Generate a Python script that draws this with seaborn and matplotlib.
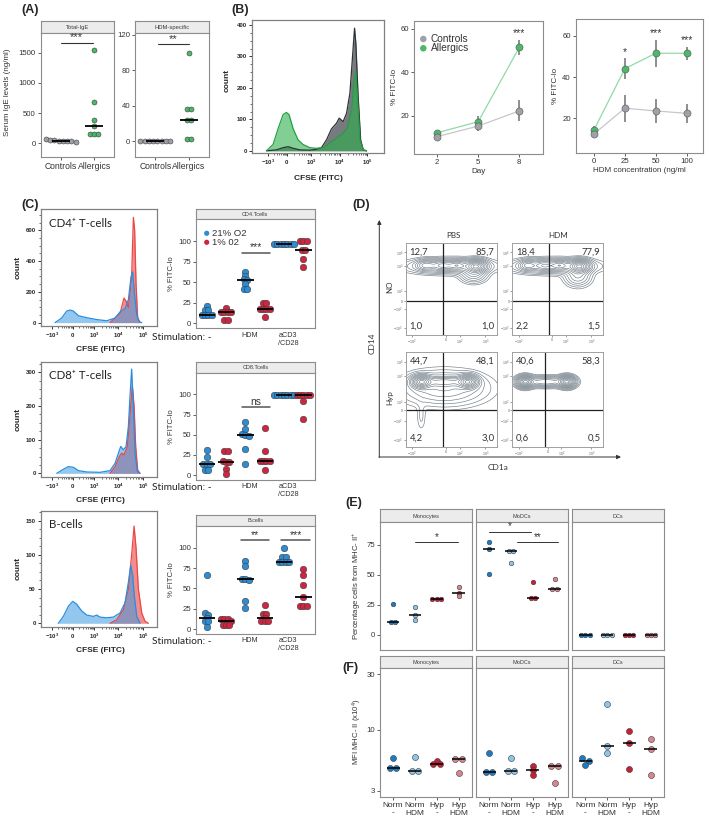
import numpy as np
import matplotlib
matplotlib.use("Agg")
import matplotlib.pyplot as plt
from matplotlib.ticker import AutoMinorLocator
import seaborn as sns

# ---------------- data ----------------
# (A) serum IgE
ige_groups = ["Controls", "Allergics"]
total_ige_controls = [22, 28, 35, 40, 48, 58, 62, 30]
total_ige_allergics = [1550, 690, 390, 290, 150, 150, 150]
hdm_ige_controls = [0, 0, 0, 0, 0, 0, 0, 0]
hdm_ige_allergics = [100, 36, 36, 24, 24, 2, 2]

# (B) CFSE histogram (display channel 0-100, count)
b_hist_ticks = [12.1, 26.5, 44.9, 66.4, 87.1]
b_ctrl_ch = [10.9, 18.4, 23.5, 27.3, 31.1, 36.1, 43.7, 48.7, 52.5, 56.3, 60.1, 63.9,
             65.9, 68.9, 71.5, 74.0, 76.0, 77.5, 78.5, 80.1, 82.1, 84.1, 86.6]
b_ctrl_count = [0, 3, 10, 13, 8, 3, 2, 5, 10, 35, 70, 88, 104, 93, 120, 183, 300, 390,
                342, 183, 35, 3, 0]
b_allg_ch = [10.9, 15.9, 19.7, 23.5, 26.0, 28.0, 31.1, 34.8, 38.6, 43.7, 48.7, 53.8,
             58.8, 63.9, 66.9, 68.9, 72.0, 75.3, 77.0, 78.3, 79.6, 81.6, 84.1, 86.6]
b_allg_count = [0, 20, 70, 115, 122, 115, 70, 35, 20, 10, 8, 10, 25, 40, 50, 56, 72,
                130, 215, 252, 183, 35, 3, 0]

# (B) % FITC-lo over days and HDM concentration
days = [2, 5, 8]
ctrl_day_mean = [10.3, 15.2, 22.2]
ctrl_day_err = [1.5, 2.5, 4.8]
allg_day_mean = [12.1, 17.2, 51.5]
allg_day_err = [1.5, 2.5, 3.5]
day_sig = ["", "", "***"]
hdm_conc = ["0", "25", "50", "100"]
ctrl_conc_mean = [12.4, 24.9, 23.6, 22.4]
ctrl_conc_err = [2.0, 6.5, 5.7, 4.5]
allg_conc_mean = [14.3, 44.1, 51.6, 51.6]
allg_conc_err = [2.0, 5.0, 6.6, 3.2]
conc_sig = ["", "*", "***", "***"]

# (C) CFSE histograms, 21% O2 (blue) vs 1% O2 (red)
c_hist_ticks = [9.5, 27.6, 46.3, 67.0, 88.5]
cd4_blue_ch = [12.4, 18.1, 22.4, 25.3, 28.2, 32.5, 39.7, 48.3, 56.9, 64.1, 68.4, 72.7,
               75.6, 77.9, 79.3, 80.7, 82.8, 85.1, 87.1]
cd4_blue_count = [0, 30, 75, 82, 75, 45, 32, 20, 12, 30, 70, 90, 150, 300, 330, 200, 50, 5, 0]
cd4_red_ch = [59.8, 64.1, 68.4, 71.8, 73.6, 75.6, 78.4, 79.9, 81.0, 82.2, 83.6, 85.6]
cd4_red_count = [0, 30, 60, 160, 140, 100, 300, 685, 600, 250, 30, 0]
cd8_blue_ch = [13.8, 19.5, 23.9, 28.2, 32.5, 39.7, 51.1, 59.8, 64.1, 67.0, 69.0, 71.3,
               73.6, 75.6, 77.0, 78.4, 79.9, 81.3, 83.3, 85.6]
cd8_blue_count = [0, 12, 20, 18, 8, 4, 3, 8, 30, 60, 80, 70, 80, 140, 230, 310, 200, 60, 5, 0]
cd8_red_ch = [59.8, 64.1, 67.8, 69.8, 71.8, 74.7, 77.6, 79.0, 80.5, 81.9, 83.6, 85.6]
cd8_red_count = [0, 20, 50, 60, 55, 80, 200, 260, 200, 80, 10, 0]
bc_blue_ch = [15.2, 19.5, 23.9, 27.6, 31.0, 35.3, 39.7, 45.4, 48.3, 51.1, 56.9, 62.6,
              68.4, 72.7, 75.6, 77.6, 79.3, 80.7, 82.8, 85.6]
bc_blue_count = [0, 10, 25, 32, 28, 18, 12, 10, 12, 9, 8, 9, 15, 30, 60, 85, 70, 40, 10, 0]
bc_red_ch = [59.8, 65.5, 71.3, 75.6, 78.4, 80.5, 82.2, 84.2, 87.1, 89.9, 92.8]
bc_red_count = [0, 5, 20, 50, 100, 142, 110, 50, 15, 3, 0]

# (C) % FITC-lo per stimulation (-, HDM, aCD3/CD28)
stim_labels = ["-", "HDM", "aCD3\n/CD28"]
o2_labels = ["21% O2", "1% 02"]
cd4_norm = [[21, 16, 16, 10, 10, 10, 10], [63, 58, 54, 53, 48, 42, 42], [97, 97, 97, 97, 97, 97, 97]]
cd4_hyp = [[19, 14, 14, 14, 14, 4, 4], [25, 25, 17, 17, 17, 17, 8], [100, 100, 100, 89, 89, 78, 69]]
cd8_norm = [[31, 23, 14, 14, 14, 6, 6], [66, 57, 51, 50, 49, 33, 14], [99, 99, 99, 99, 99, 99, 99]]
cd8_hyp = [[30, 30, 18, 16, 16, 8, 1], [59, 30, 17, 17, 17, 17, 7], [99, 99, 99, 99, 99, 92, 69]]
bc_norm = [[67, 20, 17, 14, 10, 10, 2], [84, 78, 62, 61, 60, 34, 26], [100, 89, 89, 83, 82, 82, 82]]
bc_hyp = [[12, 12, 12, 10, 5, 5, 5], [30, 18, 18, 14, 10, 10, 10], [74, 67, 54, 40, 28, 28, 28]]

# (D) contour populations: (centre x, centre y, sd x, sd y, weight) in display units
d_pbs_no = [(22, 76, 6, 3.2, 0.55), (40, 76, 6, 3.2, 0.55), (56, 76, 6, 3.2, 0.65),
            (77, 75, 6.5, 3.8, 1.4), (74, 66, 8, 5, 0.35), (48, 75, 26, 4.5, 0.45)]
d_hdm_no = [(17, 76, 5.5, 3.2, 0.55), (35, 76, 6, 3.2, 0.5), (52, 76, 6, 3.2, 0.65),
            (74, 75, 6.5, 3.8, 1.4), (72, 64, 8, 6, 0.35), (45, 75, 26, 4.5, 0.45)]
d_pbs_hyp = [(17, 69, 6, 3.8, 1.2), (68, 69, 6, 3.8, 1.2), (42, 69, 15, 3, 0.45),
             (42, 62, 26, 10, 0.3), (17, 32, 3, 9, 0.05)]
d_hdm_hyp = [(14, 69, 5, 3.3, 1.1), (60, 69, 5, 3.3, 1.1), (37, 69, 13, 3, 0.45)]
d_quads = [["12,7", "85,7", "1,0", "1,0"], ["18,4", "77,9", "2,2", "1,5"],
           ["44,7", "48,1", "4,2", "3,0"], ["40,6", "58,3", "0,6", "0,5"]]
d_gates = [(41, 37), (40.7, 37), (41, 39), (36, 39)]

# (E) percentage cells from MHC-II+, (F) MFI MHC-II (x10^4)
ef_groups = ["Norm\n-", "Norm\nHDM", "Hyp\n-", "Hyp\nHDM"]
ef_colors = ["#1b7cc4", "#8ec3ea", "#c91f37", "#d9858f"]
cell_types = ["Monocytes", "MoDCs", "DCs"]
pct_monocytes = [[26, 10.5, 10.5], [23, 16.7, 12.5], [30, 30, 30], [40, 35.3, 32.5]]
pct_modcs = [[77.5, 71.4, 50.8], [70, 70, 59.7], [44, 30.5, 30.5], [46.7, 38.3, 38.3]]
pct_dcs = [[0.4, 0.4, 0.4], [0.4, 0.4, 0.4], [0.4, 0.4, 0.4], [0.4, 0.4, 0.4]]
mfi_monocytes = [[5.78, 4.68, 4.68], [5.89, 4.44, 4.44], [5.45, 5.07, 5.07], [5.64, 5.64, 4.29]]
mfi_modcs = [[6.38, 4.36, 4.36], [5.74, 4.44, 4.44], [4.93, 4.5, 4.1], [4.91, 4.91, 3.52]]
mfi_dcs = [[5.74, 5.4, 4.97], [16.6, 7.2, 6.38], [9.86, 7.69, 4.65], [8.41, 6.82, 4.1]]

# ---------------- style ----------------
sns.set_style("ticks")
plt.rcParams['font.family'] = ['Liberation Sans', 'DejaVu Sans']
plt.rcParams['mathtext.fontset'] = 'custom'
plt.rcParams['mathtext.rm'] = 'Liberation Sans'
plt.rcParams['mathtext.it'] = 'Liberation Sans:italic'
plt.rcParams['mathtext.bf'] = 'Liberation Sans:bold'
CAL = ['Lato', 'DejaVu Sans']

GREY = "#9ea2a8"
GREEN = "#4cb86a"
BLUE = "#2b8dd6"
RED = "#cf2540"
EDGE = "#8c8c8c"

W, H = 709, 830
fig = plt.figure(figsize=(W / 100, H / 100), dpi=100)


def box(x0, y0, x1, y1):
    return fig.add_axes([x0 / W, 1 - y1 / H, (x1 - x0) / W, (y1 - y0) / H])


ov = fig.add_axes([0, 0, 1, 1], zorder=20)
ov.set_xlim(0, W)
ov.set_ylim(H, 0)
ov.axis('off')


def style_box(ax, lw=0.8, color=EDGE):
    for s in ax.spines.values():
        s.set_visible(True)
        s.set_color(color)
        s.set_linewidth(lw)


def facet(x0, ys, yp, x1, y1, title, fs=4.2):
    st = box(x0, ys, x1, yp)
    st.set_facecolor('#ececec')
    st.set_xticks([])
    st.set_yticks([])
    style_box(st)
    st.text(0.5, 0.45, title, transform=st.transAxes, ha='center', va='center',
            fontsize=fs, color='#3c3c3c')
    ax = box(x0, yp, x1, y1)
    style_box(ax)
    ax.tick_params(length=2, width=0.6, color='#444444', labelsize=5.6,
                   labelcolor='#333333', pad=1.5)
    return ax


def stack_dots(values, center, binwidth, step, log=False):
    v = np.asarray(values, float)
    key = np.log10(v) if log else v
    order = np.argsort(-key, kind='stable')
    v, key = v[order], key[order]
    xs, ys = [], []
    i = 0
    while i < len(v):
        j = i
        while j + 1 < len(v) and key[i] - key[j + 1] <= binwidth:
            j += 1
        n = j - i + 1
        xs.extend(center + (np.arange(n) - (n - 1) / 2) * step)
        ys.extend(v[i:j + 1])
        i = j + 1
    return xs, ys


def dots(ax, values, center, color, s, binwidth, step, half, log=False, med_lw=1.3):
    xs, ys = stack_dots(values, center, binwidth, step, log)
    sns.scatterplot(x=xs, y=ys, color=color, s=s, edgecolor='#3d3d3d', linewidth=0.4,
                    ax=ax, legend=False, zorder=3)
    ax.hlines(np.median(values), center - half, center + half, color='black',
              lw=med_lw, zorder=4)


def sig(ax, x1, x2, y, label, dy, fs=6.5, lw=0.8, color='#333333'):
    ax.plot([x1, x2], [y, y], color=color, lw=lw)
    ax.text((x1 + x2) / 2, y + dy, label, ha='center', va='center', fontsize=fs, color='#333333')


def hist_axes(ax, xt, ylim, yt):
    style_box(ax, 0.9, '#808080')
    ax.set_xlim(0, 100)
    ax.set_ylim(*ylim)
    labels = ["$\\mathbf{-10^{3}}$", "$\\mathbf{0}$", "$\\mathbf{10^{3}}$",
              "$\\mathbf{10^{4}}$", "$\\mathbf{10^{5}}$"]
    ax.set_xticks(xt, labels)
    minors = [a + np.log10(m) * (b - a) for a, b in zip(xt[:-1], xt[1:]) for m in range(2, 10)]
    ax.set_xticks(minors, minor=True)
    ax.set_yticks(yt, [str(v) for v in yt], fontweight='bold')
    ax.yaxis.set_minor_locator(AutoMinorLocator(4))
    ax.tick_params(axis='both', which='major', length=2.5, width=0.7, labelsize=4.3,
                   pad=1, color='#333333')
    ax.tick_params(axis='both', which='minor', length=1.3, width=0.5, color='#333333')


def hist_curve(ax, ch, cnt, fill, line, alpha, lw=0.9):
    ax.fill_between(ch, cnt, 0, color=fill, alpha=alpha, lw=0)
    sns.lineplot(x=ch, y=cnt, color=line, lw=lw, ax=ax)


# ---------------- panel letters ----------------
for lab, (x, y) in {"(A)": (30, 10.5), "(B)": (240, 9.5), "(C)": (30, 204.5),
                    "(D)": (361, 204.5), "(E)": (354, 503), "(F)": (350, 668)}.items():
    ov.text(x, y, lab, fontsize=9, fontweight='bold', ha='center', va='center')

# ---------------- (A) ----------------
axA1 = facet(40.7, 21.3, 33.3, 114.3, 156.7, "Total-IgE")
dots(axA1, total_ige_controls, 1, GREY, 13, 50, 0.127, 0.27)
dots(axA1, total_ige_allergics, 2, GREEN, 13, 50, 0.127, 0.27)
axA1.set_xlim(0.4, 2.6)
axA1.set_ylim(-227, 1826)
axA1.set_xticks([1, 2], ige_groups, fontsize=6.2)
axA1.set_yticks([0, 500, 1000, 1500])
sig(axA1, 1.0, 1.95, 1666, "***", 90, fs=8)

axA2 = facet(135, 21.3, 33.3, 209.3, 156.7, "HDM-specific")
dots(axA2, hdm_ige_controls, 1, GREY, 13, 4, 0.127, 0.27)
dots(axA2, hdm_ige_allergics, 2, GREEN, 13, 4, 0.127, 0.27)
axA2.set_xlim(0.4, 2.6)
axA2.set_ylim(-17.7, 121.8)
axA2.set_xticks([1, 2], ige_groups, fontsize=6.2)
axA2.set_yticks([0, 40, 80, 120])
sig(axA2, 1.07, 2.0, 109.8, "**", 5.5, fs=8)
ov.text(8, 92, "Serum IgE levels (ng/ml)", rotation=90, fontsize=5.8, ha='center',
        va='center', color='#333333')

# ---------------- (B) histogram ----------------
axBh = box(252, 20, 384.3, 152.7)
hist_axes(axBh, b_hist_ticks, (-6, 416), [0, 100, 200, 300, 400])
hist_curve(axBh, b_ctrl_ch, b_ctrl_count, '#5f6368', '#2f3236', 0.85)
hist_curve(axBh, b_allg_ch, b_allg_count, '#2db04b', '#23a046', 0.6)
ov.text(227, 80, "count", rotation=90, fontsize=6, fontweight='bold', ha='center', va='center')
ov.text(318, 179, "CFSE (FITC)", fontsize=6, fontweight='bold', ha='center', va='center')

# ---------------- (B) kinetics ----------------
axBm = box(414.3, 20.7, 543.3, 154)
style_box(axBm)
axBm.tick_params(length=2, width=0.6, color='#444444', labelsize=5.6, labelcolor='#333333', pad=1.5)
for m, e, c, lc in [(ctrl_day_mean, ctrl_day_err, GREY, '#c5c7ca'),
                    (allg_day_mean, allg_day_err, GREEN, '#8fdaa8')]:
    axBm.errorbar(days, m, yerr=e, fmt='none', ecolor='#707070', elinewidth=1.1, capsize=0, zorder=1)
    sns.lineplot(x=days, y=m, color=lc, lw=0.9, ax=axBm, zorder=2)
for m, c in [(allg_day_mean, GREEN), (ctrl_day_mean, GREY)]:
    sns.scatterplot(x=days, y=m, color=c, s=26, edgecolor='#555555', linewidth=0.4,
                    ax=axBm, legend=False, zorder=3)
for d, m, e, s in zip(days, allg_day_mean, allg_day_err, day_sig):
    if s:
        axBm.text(d, m + e + 3, s, ha='center', va='center', fontsize=7.5, color='#333333')
axBm.set_xlim(0.34, 9.75)
axBm.set_ylim(2.3, 63.8)
axBm.set_xticks(days)
axBm.set_yticks([20, 40, 60])
axBm.set_xlabel("Day", fontsize=5.8, labelpad=1.5, color='#333333')
axBm.set_ylabel("% FITC-lo", fontsize=5.8, labelpad=2, color='#333333')
ov.scatter([423.3, 423.3], [39, 48.3], s=22, c=[GREY, GREEN], edgecolors='none')
ov.text(430.5, 39, "Controls", fontsize=7.3, va='center', color='#333333')
ov.text(430.5, 48.3, "Allergics", fontsize=7.3, va='center', color='#333333')

# ---------------- (B) dose ----------------
axBr = box(575.7, 19.3, 702.7, 153.3)
style_box(axBr)
axBr.tick_params(length=2, width=0.6, color='#444444', labelsize=5.6, labelcolor='#333333', pad=1.5)
conc_pos = list(range(len(hdm_conc)))
for m, e, c, lc in [(ctrl_conc_mean, ctrl_conc_err, GREY, '#c5c7ca'),
                    (allg_conc_mean, allg_conc_err, GREEN, '#8fdaa8')]:
    axBr.errorbar(conc_pos, m, yerr=e, fmt='none', ecolor='#707070', elinewidth=1.1, capsize=0, zorder=1)
    sns.lineplot(x=conc_pos, y=m, color=lc, lw=0.9, ax=axBr, zorder=2)
for m, c in [(allg_conc_mean, GREEN), (ctrl_conc_mean, GREY)]:
    sns.scatterplot(x=conc_pos, y=m, color=c, s=26, edgecolor='#555555', linewidth=0.4,
                    ax=axBr, legend=False, zorder=3)
for p, m, e, s in zip(conc_pos, allg_conc_mean, allg_conc_err, conc_sig):
    if s:
        axBr.text(p, m + e + 3, s, ha='center', va='center', fontsize=7.5, color='#333333')
axBr.set_xlim(-0.59, 3.52)
axBr.set_ylim(3.0, 68.1)
axBr.set_xticks(conc_pos, hdm_conc)
axBr.set_yticks([20, 40, 60])
axBr.set_xlabel("HDM concentration (ng/ml", fontsize=5.8, labelpad=1.5, color='#333333')
axBr.set_ylabel("% FITC-lo", fontsize=5.8, labelpad=2, color='#333333')

# ---------------- (C) ----------------
c_rows = [
    ("CD4\u207a T-cells", "CD4.Tcells", (209.3, 325.7), (-20, 737), [0, 200, 400, 600],
     (cd4_blue_ch, cd4_blue_count, cd4_red_ch, cd4_red_count), (209.3, 219, 328.3),
     cd4_norm, cd4_hyp, [(1.8, 3.25, 86, "***")], 337),
    ("CD8\u207a T-cells", "CD8.Tcells", (361.7, 476.7), (-10, 332), [0, 100, 200, 300],
     (cd8_blue_ch, cd8_blue_count, cd8_red_ch, cd8_red_count), (361.7, 372.7, 480),
     cd8_norm, cd8_hyp, [(1.8, 3.25, 84, "ns")], 487.3),
    ("B-cells", "B.cells", (511, 626.7), (-5, 164), [0, 50, 100, 150],
     (bc_blue_ch, bc_blue_count, bc_red_ch, bc_red_count), (515, 525.7, 634),
     bc_norm, bc_hyp, [(1.75, 3.2, 109, "**"), (3.85, 5.35, 109, "***")], 641.7),
]
for title, strip, (hy0, hy1), hyl, hyt, curves, (sy0, sp0, sp1), norm, hyp, sigs, stim_y in c_rows:
    axh = box(40.7, hy0, 156.7, hy1)
    hist_axes(axh, c_hist_ticks, hyl, hyt)
    bch, bcnt, rch, rcnt = curves
    hist_curve(axh, rch, rcnt, '#f07070', '#e84848', 0.8)
    hist_curve(axh, bch, bcnt, '#3a9ae0', '#2a8ee0', 0.55)
    axh.text(0.07, 0.88, title, transform=axh.transAxes, fontsize=8.3, family=CAL,
             ha='left', va='center', color='#222222')
    ov.text(18, (hy0 + hy1) / 2, "count", rotation=90, fontsize=6, fontweight='bold',
            ha='center', va='center')
    ov.text(100, hy1 + 24, "CFSE (FITC)", fontsize=6, fontweight='bold', ha='center', va='center')

    axd = facet(195.7, sy0, sp0, 315, sp1, strip, fs=4.0)
    for i in range(len(stim_labels)):
        dots(axd, norm[i], 2 * i, BLUE, 22, 3.5, 0.17, 0.42)
        dots(axd, hyp[i], 2 * i + 1, RED, 22, 3.5, 0.17, 0.42)
    for x1, x2, y, lab in sigs:
        sig(axd, x1, x2, y, lab, 7, fs=7.5 if lab != "ns" else 7.5, lw=1.1, color='#555555')
    axd.set_xlim(-0.57, 5.6)
    axd.set_ylim(-6, 127)
    axd.set_xticks([2.2, 4.22], stim_labels[1:], fontsize=5.2)
    axd.tick_params(axis='x', length=0, pad=2.5)
    axd.set_yticks([0, 25, 50, 75, 100])
    axd.set_ylabel("% FITC-lo", fontsize=5.6, labelpad=2, color='#333333')
    ov.text(211, stim_y, "Stimulation: -", ha='right', va='center', fontsize=7.3, family=CAL,
            color='#222222')

ov.scatter([206.7, 206.7], [233.3, 242.3], s=14, c=[BLUE, RED], edgecolors='none')
ov.text(212.5, 233.3, o2_labels[0], fontsize=6.8, va='center', color='#333333')
ov.text(212.5, 242.3, o2_labels[1], fontsize=6.8, va='center', color='#333333')

# ---------------- (D) ----------------
contour_levels = np.array([0.015, 0.03, 0.055, 0.09, 0.14, 0.2, 0.28, 0.38, 0.5, 0.63, 0.78, 0.92])
d_boxes = [(405.7, 243.3, 497.3, 335), (512.3, 243.3, 603.3, 335),
           (405.7, 352.3, 497.3, 447.3), (512.3, 352.3, 603.3, 447.3)]
gx, gy = np.meshgrid(np.linspace(0, 100, 220), np.linspace(0, 100, 220))
for (x0, y0, x1, y1), pops, quads, (qx, qy) in zip(d_boxes, [d_pbs_no, d_hdm_no, d_pbs_hyp, d_hdm_hyp],
                                                   d_quads, d_gates):
    axc = box(x0, y0, x1, y1)
    style_box(axc, 0.7, '#a0a0a0')
    dens = np.zeros_like(gx)
    for cx, cy, sx, sy, w in pops:
        dens += w * np.exp(-0.5 * (((gx - cx) / sx) ** 2 + ((gy - cy) / sy) ** 2))
    axc.contour(gx, gy, dens, levels=dens.max() * contour_levels, colors='#6f7c86', linewidths=0.45)
    axc.axvline(qx, color='#222222', lw=0.9)
    axc.axhline(qy, color='#222222', lw=0.9)
    axc.set_xlim(0, 100)
    axc.set_ylim(0, 100)
    axc.set_xticks([7, qx + 3, qx + 18, 87],
                   ["$-10^2$", "0", "$10^2$", "$10^3$"], fontsize=2.6)
    axc.set_yticks([8, 28, qy, 48, 75, 90],
                   ["$-10^3$", "$-10^2$", "0", "$10^2$", "$10^3$", "$10^4$"], fontsize=2.6)
    axc.tick_params(length=1.5, width=0.4, color='#555555', labelcolor='#666666', pad=0.5)
    for (tx, ty, ha, va), q in zip([(0.04, 0.95, 'left', 'top'), (0.97, 0.95, 'right', 'top'),
                                    (0.04, 0.05, 'left', 'bottom'), (0.97, 0.05, 'right', 'bottom')], quads):
        axc.text(tx, ty, q, transform=axc.transAxes, ha=ha, va=va, fontsize=6.8,
                 family=CAL, color='#333333')
ov.text(453, 235, "PBS", fontsize=5.8, family=CAL, ha='center', va='center', color='#333333')
ov.text(558, 235, "HDM", fontsize=5.8, family=CAL, ha='center', va='center', color='#333333')
ov.text(390, 287, "NO", fontsize=5.8, family=CAL, rotation=90, ha='center', va='center', color='#333333')
ov.text(390, 398, "Hyp", fontsize=5.8, family=CAL, rotation=90, ha='center', va='center', color='#333333')
ov.text(372, 343, "CD14", fontsize=6, family=CAL, rotation=90, ha='center', va='center', color='#333333')
ov.text(498, 467, "CD1a", fontsize=6, family=CAL, ha='center', va='center', color='#333333')
ov.annotate('', xy=(379.3, 220), xytext=(379.3, 457.5),
            arrowprops=dict(arrowstyle='-|>', lw=0.7, color='#333333', mutation_scale=6,
                            shrinkA=0, shrinkB=0))
ov.annotate('', xy=(621, 457), xytext=(378.9, 457),
            arrowprops=dict(arrowstyle='-|>', lw=0.7, color='#333333', mutation_scale=6,
                            shrinkA=0, shrinkB=0))

# ---------------- (E) and (F) ----------------
ef_x = [(380, 471.7), (476, 567.7), (572.3, 664)]
pos = list(range(1, len(ef_groups) + 1))
e_sigs = {0: [(2.0, 3.96, 77.5, "*")], 1: [(1.0, 2.93, 86, "*"), (2.27, 4.17, 77.5, "**")], 2: []}
for k, (ctype, pct, mfi) in enumerate(zip(cell_types, [pct_monocytes, pct_modcs, pct_dcs],
                                           [mfi_monocytes, mfi_modcs, mfi_dcs])):
    x0, x1 = ef_x[k]
    axe = facet(x0, 509.3, 521.7, x1, 650, ctype, fs=4.0)
    for p, vals, c in zip(pos, pct, ef_colors):
        dots(axe, vals, p, c, 11, 2.5, 0.2, 0.28, med_lw=1.1)
    for a, b, y, lab in e_sigs[k]:
        sig(axe, a, b, y, lab, 4.5, fs=7, lw=0.7)
    axe.set_xlim(0.4, 4.6)
    axe.set_ylim(-12.5, 94.4)
    axe.set_xticks([])
    axe.set_yticks([0, 25, 50, 75] if k == 0 else [])

    axf = facet(x0, 656, 668.3, x1, 796.7, ctype, fs=4.0)
    for p, vals, c in zip(pos, mfi, ef_colors):
        dots(axf, vals, p, c, 19, 0.03, 0.3, 0.3, log=True, med_lw=1.1)
    axf.set_yscale('log')
    axf.set_xlim(0.4, 4.6)
    axf.set_ylim(2.665, 33.8)
    axf.minorticks_off()
    axf.set_xticks(pos, ef_groups, fontsize=6)
    if k == 0:
        axf.set_yticks([3, 10, 30], ["3", "10", "30"])
    else:
        axf.set_yticks([])
ov.text(357, 586, "Percentage cells from MHC- II$^{+}$", rotation=90, fontsize=5.6,
        ha='center', va='center', color='#333333')
ov.text(357, 732, "MFI MHC- II (x10$^{4}$)", rotation=90, fontsize=5.6,
        ha='center', va='center', color='#333333')

fig.savefig("out.png", dpi=100)
